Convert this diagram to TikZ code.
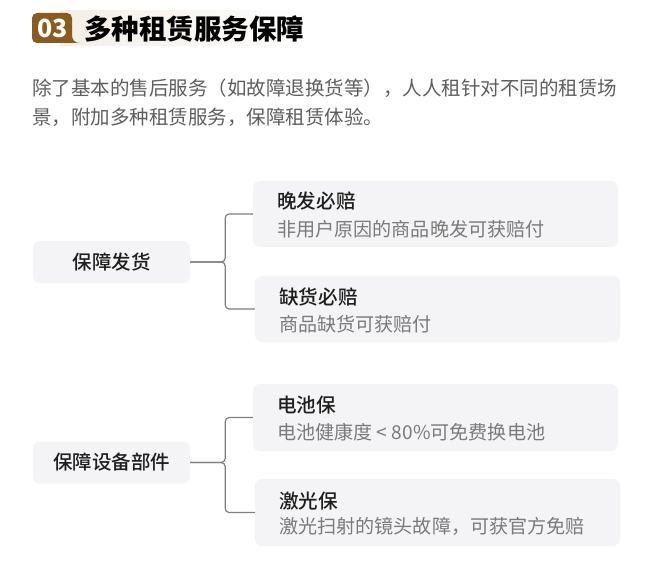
\documentclass[tikz,border=0pt]{standalone}
\usepackage{fontspec}
\setmainfont{Noto Sans CJK SC}
\newfontfamily\cjk{Noto Sans CJK SC}
\newfontfamily\cjkmed{Noto Sans CJK SC Medium}
\usetikzlibrary{positioning}
\definecolor{badge}{HTML}{8B5A1E}
\definecolor{band}{HTML}{F3EEE6}
\definecolor{boxfill}{HTML}{F4F4F6}
\definecolor{paratext}{HTML}{5E5E5E}
\definecolor{subtext}{HTML}{7A7A7A}
\definecolor{titletext}{HTML}{1E1E1E}
\definecolor{linecol}{HTML}{808080}
\tikzset{
  gbox/.style={fill=boxfill, rounded corners=7pt, minimum width=157pt, minimum height=42pt, inner sep=0pt, text=titletext, font=\cjkmed\fontsize{19.5}{22}\selectfont},
  rbox/.style={fill=boxfill, rounded corners=7pt, minimum width=365pt, minimum height=66pt, inner sep=0pt},
  rtitle/.style={anchor=west, inner sep=0pt, text=titletext, font=\cjkmed\fontsize{19.6}{22}\selectfont},
  rsub/.style={anchor=west, inner sep=0pt, text=subtext, font=\cjk\fontsize{19.1}{22}\selectfont},
  para/.style={anchor=west, inner sep=0pt, text=paratext, font=\cjk\fontsize{19.5}{24}\selectfont},
  conn/.style={draw=linecol, line width=1.2pt, rounded corners=4pt}
}
\begin{document}
\begin{tikzpicture}[x=1pt,y=-1pt]
\useasboundingbox (0,0) rectangle (650,572);
\fill[white] (0,0) rectangle (650,572);
% header band
\shade[left color=band, right color=white] (60,11) rectangle (312,46);
% badge
\fill[badge] (37,13) -- (67,13) arc[start angle=-90,end angle=0,radius=5] -- (72,35)
  .. controls (72,40) and (75,43) .. (80,43) -- (37,43)
  arc[start angle=90,end angle=180,radius=5] -- (32,18)
  arc[start angle=180,end angle=270,radius=5] -- cycle;
\node[inner sep=0pt, text=white, font=\cjk\bfseries\fontsize{25}{28}\selectfont] (num) at (52.5,28.5) {03};
\node[anchor=west, inner sep=0pt, text=black, font=\cjk\bfseries\fontsize{27.5}{30}\selectfont] (title) at (84,29) {多种租赁服务保障};
% paragraph
\node[para] (p1) at (32,88) {除了基本的售后服务（如故障退换货等），人人租针对不同的租赁场};
\node[para] (p2) at (32,117) {景，附加多种租赁服务，保障租赁体验。};
% group 1
\node[gbox] (g1) at (111.5,262) {保障发货};
\node[rbox] (r1) at (435.5,214) {};
\node[rbox] (r2) at (437.5,309) {};
\node[rtitle] (t1) at (277,201) {晚发必赔};
\node[rsub] (s1) at (277,229) {非用户原因的商品晚发可获赔付};
\node[rtitle] (t2) at (279,297) {缺货必赔};
\node[rsub] (s2) at (279,324) {商品缺货可获赔付};
\draw[conn] (g1.east) -- ++(35,0) |- (r1.west);
\draw[conn] (g1.east) -- ++(35,0) |- (r2.west);
% group 2
\node[gbox] (g2) at (111.5,462.5) {保障设备部件};
\node[rbox, minimum height=67pt] (r3) at (435.5,417.5) {};
\node[rbox, minimum height=67pt] (r4) at (437.5,512.5) {};
\node[rtitle] (t3) at (277,405) {电池保};
\node[rsub] (s3) at (277,432) {电池健康度 < 80\%可免费换电池};
\node[rtitle] (t4) at (279,501) {激光保};
\node[rsub] (s4) at (279,526) {激光扫射的镜头故障，可获官方免赔};
\draw[conn] (g2.east) -- ++(35,0) |- (r3.west);
\draw[conn] (g2.east) -- ++(35,0) |- (r4.west);
\end{tikzpicture}
\end{document}
